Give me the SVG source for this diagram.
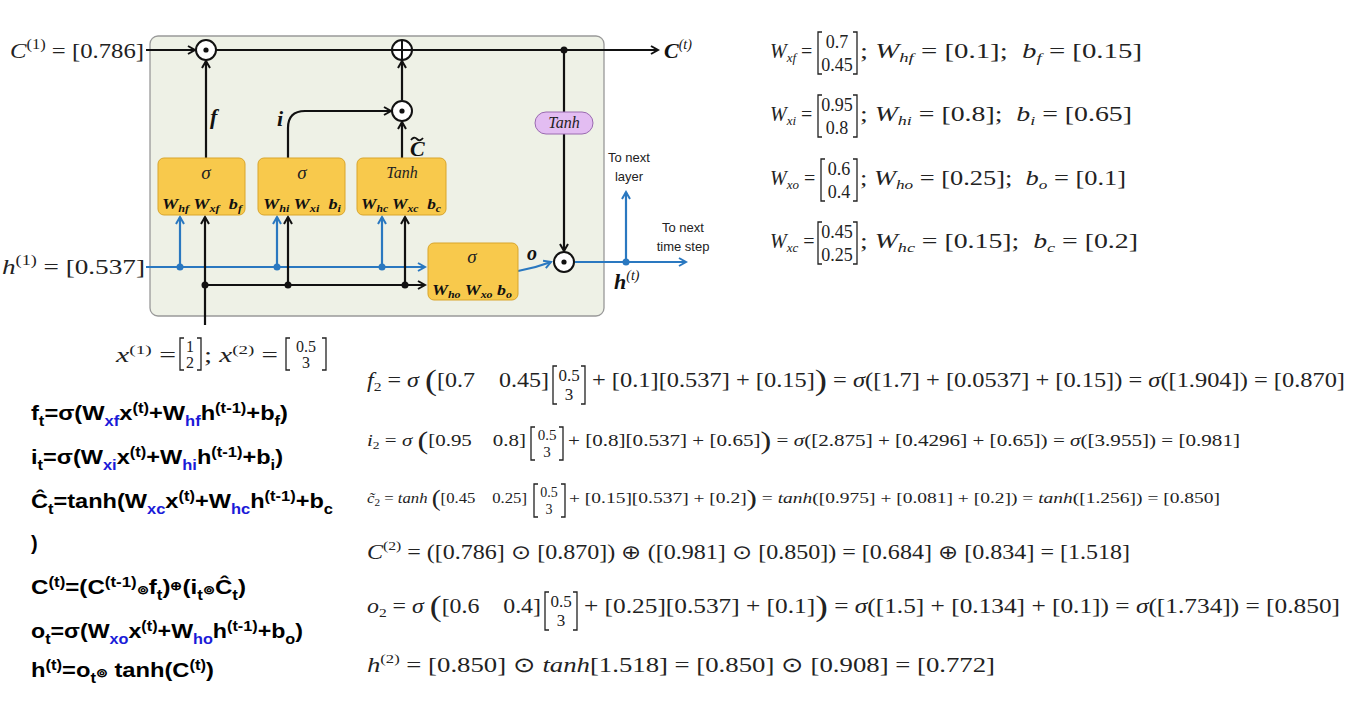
<svg xmlns="http://www.w3.org/2000/svg" width="1363" height="706" viewBox="0 0 1363 706">
<style>
text{white-space:pre}
.m{font-family:"Liberation Serif",serif;fill:#222}
.i{font-style:italic}
.b{font-family:"Liberation Serif",serif;font-weight:bold;font-style:italic;fill:#111}
.k{stroke:#111;stroke-width:2.2;fill:none}
.bl{stroke:#2a78c0;stroke-width:2.2;fill:none}
.box{fill:#f8c94c;stroke:#d9a52a;stroke-width:1}
.br{stroke:#222;stroke-width:1.3;fill:none}
.sans{font-family:"Liberation Sans",sans-serif;font-size:13px;fill:#222}
.lf{font-family:"Liberation Sans",sans-serif;font-weight:bold;font-size:20px;fill:#000}
.blu{fill:#1a1ad8}
</style>
<defs>
<marker id="ak" markerWidth="10" markerHeight="10" refX="8" refY="5" orient="auto" markerUnits="userSpaceOnUse"><path d="M1,1 L8,5 L1,9" fill="none" stroke="#111" stroke-width="2"/></marker>
<marker id="ab" markerWidth="10" markerHeight="10" refX="8" refY="5" orient="auto" markerUnits="userSpaceOnUse"><path d="M1,1 L8,5 L1,9" fill="none" stroke="#2a78c0" stroke-width="2"/></marker>
</defs>
<rect width="1363" height="706" fill="#fff"/>
<rect x="150" y="36" width="454" height="280" rx="8" fill="#eef1e6" stroke="#999" stroke-width="1.3"/>

<g id="connectors">
<line class="k" x1="146" y1="50" x2="195" y2="50" marker-end="url(#ak)"/>
<line class="k" x1="215" y1="50" x2="658" y2="50" marker-end="url(#ak)"/>
<line class="k" x1="564" y1="50" x2="564" y2="251" marker-end="url(#ak)"/>
<circle cx="564" cy="50" r="3.5" fill="#111"/>
<line class="k" x1="206" y1="158" x2="206" y2="61" marker-end="url(#ak)"/>
<path class="k" d="M288,158 V128 Q288,111 305,111 H391" marker-end="url(#ak)"/>
<line class="k" x1="402" y1="100" x2="402" y2="61" marker-end="url(#ak)"/>
<line class="k" x1="402" y1="158" x2="402" y2="122" marker-end="url(#ak)"/>
<line class="bl" x1="146" y1="267" x2="425" y2="267" marker-end="url(#ab)"/>
<line class="bl" x1="180" y1="267" x2="180" y2="217" marker-end="url(#ab)"/>
<line class="bl" x1="277" y1="267" x2="277" y2="217" marker-end="url(#ab)"/>
<line class="bl" x1="382" y1="267" x2="382" y2="217" marker-end="url(#ab)"/>
<circle cx="180" cy="267" r="3.5" fill="#2a78c0"/><circle cx="277" cy="267" r="3.5" fill="#2a78c0"/><circle cx="382" cy="267" r="3.5" fill="#2a78c0"/>
<line class="k" x1="205" y1="325" x2="205" y2="217" marker-end="url(#ak)"/>
<line class="k" x1="205" y1="285" x2="425" y2="285" marker-end="url(#ak)"/>
<line class="k" x1="288" y1="285" x2="288" y2="217" marker-end="url(#ak)"/>
<line class="k" x1="405" y1="285" x2="405" y2="217" marker-end="url(#ak)"/>
<circle cx="205" cy="285" r="3.5" fill="#111"/><circle cx="288" cy="285" r="3.5" fill="#111"/><circle cx="405" cy="285" r="3.5" fill="#111"/>
<path class="bl" d="M518,271 Q535,268 551,262" marker-end="url(#ab)"/>
<line class="bl" x1="575" y1="262" x2="686" y2="262" marker-end="url(#ab)"/>
<line class="bl" x1="626" y1="262" x2="626" y2="192" marker-end="url(#ab)"/>
<circle cx="626" cy="262" r="3.5" fill="#2a78c0"/>
</g>

<g id="ops" fill="#fff" stroke="#111" stroke-width="2">
<circle cx="206" cy="50" r="10"/><circle cx="402" cy="50" r="10"/><circle cx="402" cy="111" r="10"/><circle cx="564" cy="262" r="10"/>
<line x1="392" y1="50" x2="412" y2="50"/><line x1="402" y1="40" x2="402" y2="60"/>
</g>
<g fill="#111"><circle cx="206" cy="50" r="2.6"/><circle cx="402" cy="111" r="2.6"/><circle cx="564" cy="262" r="2.6"/></g>

<g id="tanh-pill"><rect x="535" y="112" width="58" height="22" rx="11" fill="#e3bdf2" stroke="#9a6ab0"/><text x="564" y="128" class="m i" font-size="16" text-anchor="middle">Tanh</text></g>

<g id="forget"><rect class="box" x="158" y="158" width="87" height="57" rx="6"/><text x="206" y="179" class="m i" font-size="19" text-anchor="middle">σ</text><text x="162" y="209" class="b" font-size="15" textLength="80" lengthAdjust="spacingAndGlyphs">W<tspan font-size="10" dy="3">hf</tspan><tspan dy="-3"> W</tspan><tspan font-size="10" dy="3">xf</tspan><tspan dy="-3">  b</tspan><tspan font-size="10" dy="3">f</tspan></text></g>
<g id="input"><rect class="box" x="258" y="158" width="87" height="57" rx="6"/><text x="302" y="179" class="m i" font-size="19" text-anchor="middle">σ</text><text x="263" y="209" class="b" font-size="15" textLength="78" lengthAdjust="spacingAndGlyphs">W<tspan font-size="10" dy="3">hi</tspan><tspan dy="-3"> W</tspan><tspan font-size="10" dy="3">xi</tspan><tspan dy="-3">  b</tspan><tspan font-size="10" dy="3">i</tspan></text></g>
<g id="cand"><rect class="box" x="357" y="158" width="89" height="57" rx="6"/><text x="402" y="178" class="m i" font-size="16" text-anchor="middle">Tanh</text><text x="361" y="209" class="b" font-size="15" textLength="80" lengthAdjust="spacingAndGlyphs">W<tspan font-size="10" dy="3">hc</tspan><tspan dy="-3"> W</tspan><tspan font-size="10" dy="3">xc</tspan><tspan dy="-3">  b</tspan><tspan font-size="10" dy="3">c</tspan></text></g>
<g id="output"><rect class="box" x="428" y="243" width="90" height="57" rx="6"/><text x="472" y="263" class="m i" font-size="19" text-anchor="middle">σ</text><text x="432" y="295" class="b" font-size="15" textLength="80" lengthAdjust="spacingAndGlyphs">W<tspan font-size="10" dy="3">ho</tspan><tspan dy="-3"> W</tspan><tspan font-size="10" dy="3">xo</tspan><tspan dy="-3"> b</tspan><tspan font-size="10" dy="3">o</tspan></text></g>

<g id="labels">
<text x="210" y="124" class="b" font-size="22">f</text>
<text x="277" y="126" class="b" font-size="22">i</text>
<text x="410" y="156" class="b" font-size="22">C</text>
<path d="M411,140 q3,-4 6,-1 t6,-1" stroke="#111" stroke-width="1.8" fill="none"/>
<text x="527" y="260" class="b" font-size="20">o</text>
<text x="664" y="58" class="b" font-size="22">C<tspan font-size="14" dy="-9" font-weight="normal">(t)</tspan></text>
<text x="614" y="289" class="b" font-size="22">h<tspan font-size="14" dy="-9" font-weight="normal">(t)</tspan></text>
<text x="629" y="162" class="sans" text-anchor="middle">To next</text><text x="629" y="181" class="sans" text-anchor="middle">layer</text>
<text x="683" y="232" class="sans" text-anchor="middle">To next</text><text x="683" y="251" class="sans" text-anchor="middle">time step</text>
<text x="10" y="58" class="m" font-size="21" textLength="134" lengthAdjust="spacingAndGlyphs"><tspan class="i">C</tspan><tspan font-size="14" dy="-9">(1)</tspan><tspan dy="9"> = [0.786]</tspan></text>
<text x="2" y="274" class="m" font-size="21" textLength="143" lengthAdjust="spacingAndGlyphs"><tspan class="i">h</tspan><tspan font-size="14" dy="-9">(1)</tspan><tspan dy="9"> = [0.537]</tspan></text>
<text x="116" y="362" class="m" font-size="20" textLength="60" lengthAdjust="spacingAndGlyphs"><tspan class="i">x</tspan><tspan font-size="13" dy="-8">(1)</tspan><tspan dy="8"> =</tspan></text>
<path class="br" d="M184,338 h-4 v32 h4 M197,338 h4 v32 h-4"/>
<text x="190" y="352" class="m" font-size="16" text-anchor="middle">1</text><text x="190" y="368" class="m" font-size="16" text-anchor="middle">2</text>
<text x="204" y="362" class="m" font-size="20" textLength="74" lengthAdjust="spacingAndGlyphs">; <tspan class="i">x</tspan><tspan font-size="13" dy="-8">(2)</tspan><tspan dy="8"> =</tspan></text>
<path class="br" d="M290,338 h-4 v32 h4 M322,338 h4 v32 h-4"/>
<text x="306" y="352" class="m" font-size="16" text-anchor="middle">0.5</text><text x="306" y="368" class="m" font-size="16" text-anchor="middle">3</text>
</g>

<g id="weights" class="m" font-size="20">
<text x="770" y="58"><tspan class="i">W</tspan><tspan class="i" font-size="13" dy="4">xf</tspan><tspan dy="-4"> =</tspan></text>
<path class="br" d="M822,32 h-4 v42 h4 M853,32 h4 v42 h-4"/><text x="837" y="48" text-anchor="middle" font-size="18">0.7</text><text x="837" y="71" text-anchor="middle" font-size="18">0.45</text>
<text x="860" y="58" textLength="282" lengthAdjust="spacingAndGlyphs">; <tspan class="i">W</tspan><tspan class="i" font-size="13" dy="4">hf</tspan><tspan dy="-4"> = [0.1];  </tspan><tspan class="i">b</tspan><tspan class="i" font-size="13" dy="4">f</tspan><tspan dy="-4"> = [0.15]</tspan></text>
<text x="770" y="121"><tspan class="i">W</tspan><tspan class="i" font-size="13" dy="4">xi</tspan><tspan dy="-4"> =</tspan></text>
<path class="br" d="M822,95 h-4 v42 h4 M853,95 h4 v42 h-4"/><text x="837" y="111" text-anchor="middle" font-size="18">0.95</text><text x="837" y="134" text-anchor="middle" font-size="18">0.8</text>
<text x="860" y="121" textLength="272" lengthAdjust="spacingAndGlyphs">; <tspan class="i">W</tspan><tspan class="i" font-size="13" dy="4">hi</tspan><tspan dy="-4"> = [0.8];  </tspan><tspan class="i">b</tspan><tspan class="i" font-size="13" dy="4">i</tspan><tspan dy="-4"> = [0.65]</tspan></text>
<text x="770" y="185"><tspan class="i">W</tspan><tspan class="i" font-size="13" dy="4">xo</tspan><tspan dy="-4"> =</tspan></text>
<path class="br" d="M825,159 h-4 v42 h4 M853,159 h4 v42 h-4"/><text x="839" y="175" text-anchor="middle" font-size="18">0.6</text><text x="839" y="198" text-anchor="middle" font-size="18">0.4</text>
<text x="860" y="185" textLength="266" lengthAdjust="spacingAndGlyphs">; <tspan class="i">W</tspan><tspan class="i" font-size="13" dy="4">ho</tspan><tspan dy="-4"> = [0.25];  </tspan><tspan class="i">b</tspan><tspan class="i" font-size="13" dy="4">o</tspan><tspan dy="-4"> = [0.1]</tspan></text>
<text x="770" y="248"><tspan class="i">W</tspan><tspan class="i" font-size="13" dy="4">xc</tspan><tspan dy="-4"> =</tspan></text>
<path class="br" d="M822,222 h-4 v42 h4 M853,222 h4 v42 h-4"/><text x="837" y="238" text-anchor="middle" font-size="18">0.45</text><text x="837" y="261" text-anchor="middle" font-size="18">0.25</text>
<text x="860" y="248" textLength="278" lengthAdjust="spacingAndGlyphs">; <tspan class="i">W</tspan><tspan class="i" font-size="13" dy="4">hc</tspan><tspan dy="-4"> = [0.15];  </tspan><tspan class="i">b</tspan><tspan class="i" font-size="13" dy="4">c</tspan><tspan dy="-4"> = [0.2]</tspan></text>
</g>

<g id="equations" class="m">
<text x="367" y="387" font-size="20" textLength="182" lengthAdjust="spacingAndGlyphs"><tspan class="i">f</tspan><tspan font-size="13" dy="4">2</tspan><tspan dy="-4"> = </tspan><tspan class="i">σ</tspan> <tspan font-size="30" dy="3">(</tspan><tspan dy="-3">[0.7    0.45]</tspan></text>
<path class="br" d="M557,366 h-4 v38 h4 M581,366 h4 v38 h-4"/><text x="569" y="381" text-anchor="middle" font-size="17">0.5</text><text x="569" y="400" text-anchor="middle" font-size="17">3</text>
<text x="592" y="387" font-size="20" textLength="753" lengthAdjust="spacingAndGlyphs">+ [0.1][0.537] + [0.15]<tspan font-size="30" dy="3">)</tspan><tspan dy="-3"> = </tspan><tspan class="i">σ</tspan>([1.7] + [0.0537] + [0.15]) = <tspan class="i">σ</tspan>([1.904]) = [0.870]</text>

<text x="367" y="446" font-size="17" textLength="159" lengthAdjust="spacingAndGlyphs"><tspan class="i">i</tspan><tspan font-size="11" dy="3">2</tspan><tspan dy="-3"> = </tspan><tspan class="i">σ</tspan> <tspan font-size="26" dy="3">(</tspan><tspan dy="-3">[0.95    0.8]</tspan></text>
<path class="br" d="M535,427 h-4 v33 h4 M559,427 h4 v33 h-4"/><text x="547" y="440" text-anchor="middle" font-size="15">0.5</text><text x="547" y="457" text-anchor="middle" font-size="15">3</text>
<text x="568" y="446" font-size="17" textLength="672" lengthAdjust="spacingAndGlyphs">+ [0.8][0.537] + [0.65]<tspan font-size="26" dy="3">)</tspan><tspan dy="-3"> = </tspan><tspan class="i">σ</tspan>([2.875] + [0.4296] + [0.65]) = <tspan class="i">σ</tspan>([3.955]) = [0.981]</text>

<text x="367" y="503" font-size="15" textLength="160" lengthAdjust="spacingAndGlyphs"><tspan class="i">c̃</tspan><tspan font-size="10" dy="3">2</tspan><tspan dy="-3"> = </tspan><tspan class="i">tanh</tspan> <tspan font-size="24" dy="3">(</tspan><tspan dy="-3">[0.45    0.25]</tspan></text>
<path class="br" d="M538,484 h-4 v33 h4 M561,484 h4 v33 h-4"/><text x="549" y="497" text-anchor="middle" font-size="14">0.5</text><text x="549" y="514" text-anchor="middle" font-size="14">3</text>
<text x="569" y="503" font-size="15" textLength="651" lengthAdjust="spacingAndGlyphs">+ [0.15][0.537] + [0.2]<tspan font-size="24" dy="3">)</tspan><tspan dy="-3"> = </tspan><tspan class="i">tanh</tspan>([0.975] + [0.081] + [0.2]) = <tspan class="i">tanh</tspan>([1.256]) = [0.850]</text>

<text x="367" y="559" font-size="20" textLength="763" lengthAdjust="spacingAndGlyphs"><tspan class="i">C</tspan><tspan font-size="13" dy="-9">(2)</tspan><tspan dy="9"> = ([0.786] ⊙ [0.870]) ⊕ ([0.981] ⊙ [0.850]) = [0.684] ⊕ [0.834] = [1.518]</tspan></text>

<text x="367" y="613" font-size="20" textLength="174" lengthAdjust="spacingAndGlyphs"><tspan class="i">o</tspan><tspan font-size="13" dy="4">2</tspan><tspan dy="-4"> = </tspan><tspan class="i">σ</tspan> <tspan font-size="30" dy="3">(</tspan><tspan dy="-3">[0.6    0.4]</tspan></text>
<path class="br" d="M549,592 h-4 v38 h4 M573,592 h4 v38 h-4"/><text x="561" y="607" text-anchor="middle" font-size="17">0.5</text><text x="561" y="626" text-anchor="middle" font-size="17">3</text>
<text x="584" y="613" font-size="20" textLength="756" lengthAdjust="spacingAndGlyphs">+ [0.25][0.537] + [0.1]<tspan font-size="30" dy="3">)</tspan><tspan dy="-3"> = </tspan><tspan class="i">σ</tspan>([1.5] + [0.134] + [0.1]) = <tspan class="i">σ</tspan>([1.734]) = [0.850]</text>

<text x="367" y="672" font-size="21" textLength="628" lengthAdjust="spacingAndGlyphs"><tspan class="i">h</tspan><tspan font-size="13" dy="-9">(2)</tspan><tspan dy="9"> = [0.850] ⊙ </tspan><tspan class="i">tanh</tspan>[1.518] = [0.850] ⊙ [0.908] = [0.772]</text>
</g>

<g id="left-formulas" class="lf">
<text x="31" y="420" textLength="257" lengthAdjust="spacingAndGlyphs">f<tspan font-size="14" dy="6">t</tspan><tspan dy="-6">=σ(W</tspan><tspan class="blu" font-size="14" dy="6">xf</tspan><tspan dy="-6">x</tspan><tspan font-size="14" dy="-7">(t)</tspan><tspan dy="7">+W</tspan><tspan class="blu" font-size="14" dy="6">hf</tspan><tspan dy="-6">h</tspan><tspan font-size="14" dy="-7">(t-1)</tspan><tspan dy="7">+b</tspan><tspan font-size="14" dy="6">f</tspan><tspan dy="-6">)</tspan></text>
<text x="31" y="464" textLength="252" lengthAdjust="spacingAndGlyphs">i<tspan font-size="14" dy="6">t</tspan><tspan dy="-6">=σ(W</tspan><tspan class="blu" font-size="14" dy="6">xi</tspan><tspan dy="-6">x</tspan><tspan font-size="14" dy="-7">(t)</tspan><tspan dy="7">+W</tspan><tspan class="blu" font-size="14" dy="6">hi</tspan><tspan dy="-6">h</tspan><tspan font-size="14" dy="-7">(t-1)</tspan><tspan dy="7">+b</tspan><tspan font-size="14" dy="6">i</tspan><tspan dy="-6">)</tspan></text>
<text x="31" y="508" textLength="302" lengthAdjust="spacingAndGlyphs">Ĉ<tspan font-size="14" dy="6">t</tspan><tspan dy="-6">=tanh(W</tspan><tspan class="blu" font-size="14" dy="6">xc</tspan><tspan dy="-6">x</tspan><tspan font-size="14" dy="-7">(t)</tspan><tspan dy="7">+W</tspan><tspan class="blu" font-size="14" dy="6">hc</tspan><tspan dy="-6">h</tspan><tspan font-size="14" dy="-7">(t-1)</tspan><tspan dy="7">+b</tspan><tspan font-size="14" dy="6">c</tspan></text>
<text x="31" y="550">)</text>
<text x="31" y="594" textLength="215" lengthAdjust="spacingAndGlyphs">C<tspan font-size="14" dy="-7">(t)</tspan><tspan dy="7">=(C</tspan><tspan font-size="14" dy="-7">(t-1)</tspan><tspan dy="7" font-size="12">⊚</tspan><tspan font-size="20">f</tspan><tspan font-size="14" dy="6">t</tspan><tspan dy="-6">)</tspan><tspan font-size="12" dy="-4">⊕</tspan><tspan dy="4">(i</tspan><tspan font-size="14" dy="6">t</tspan><tspan dy="-6" font-size="12">⊚</tspan><tspan font-size="20">Ĉ</tspan><tspan font-size="14" dy="6">t</tspan><tspan dy="-6">)</tspan></text>
<text x="31" y="638" textLength="272" lengthAdjust="spacingAndGlyphs">o<tspan font-size="14" dy="6">t</tspan><tspan dy="-6">=σ(W</tspan><tspan class="blu" font-size="14" dy="6">xo</tspan><tspan dy="-6">x</tspan><tspan font-size="14" dy="-7">(t)</tspan><tspan dy="7">+W</tspan><tspan class="blu" font-size="14" dy="6">ho</tspan><tspan dy="-6">h</tspan><tspan font-size="14" dy="-7">(t-1)</tspan><tspan dy="7">+b</tspan><tspan font-size="14" dy="6">o</tspan><tspan dy="-6">)</tspan></text>
<text x="31" y="677" textLength="183" lengthAdjust="spacingAndGlyphs">h<tspan font-size="14" dy="-7">(t)</tspan><tspan dy="7">=o</tspan><tspan font-size="14" dy="6">t</tspan><tspan dy="-6" font-size="12">⊚</tspan><tspan font-size="20"> tanh(C</tspan><tspan font-size="14" dy="-7">(t)</tspan><tspan dy="7">)</tspan></text>
</g>
</svg>
